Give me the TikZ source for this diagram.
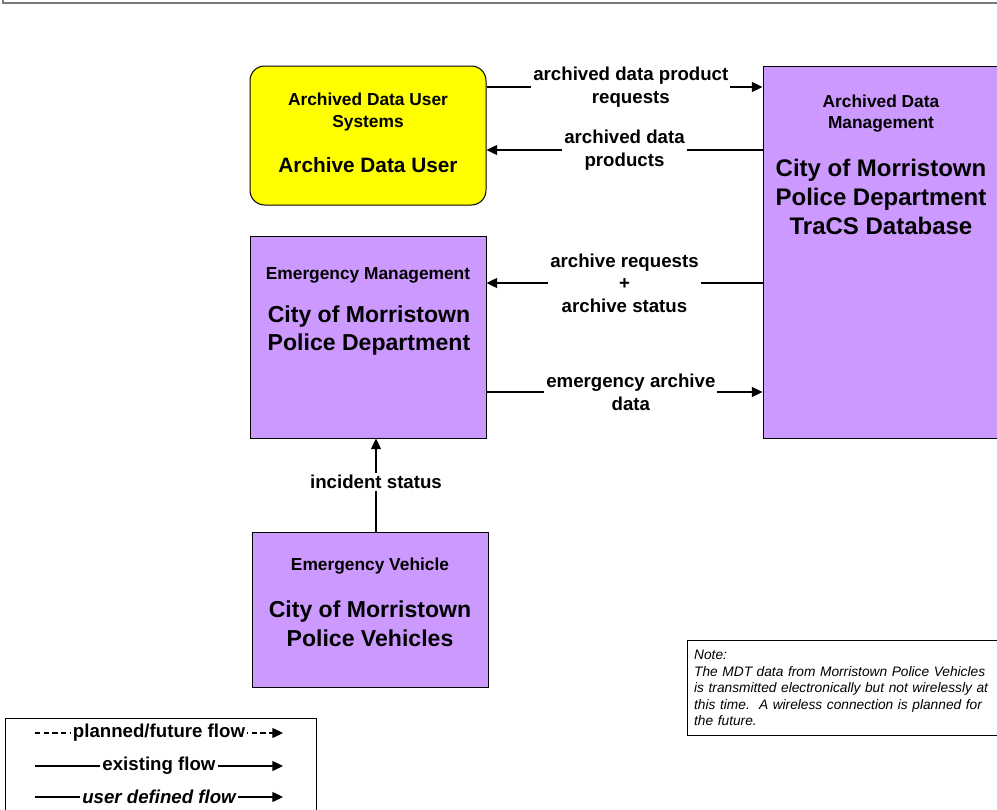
\documentclass[tikz,border=0pt]{standalone}
\usepackage{fontspec}
\setmainfont{Liberation Sans}
\usepackage{xcolor}
\usetikzlibrary{arrows.meta,calc}
\definecolor{ink}{HTML}{000000}
\definecolor{lilac}{HTML}{CC99FF}
\definecolor{lemon}{HTML}{FFFF00}
\definecolor{frame}{HTML}{7a7a7a}

\begin{document}
\begin{tikzpicture}[x=0.75pt,y=-0.75pt,
  box/.style={draw=ink,line width=0.75pt,fill=lilac,minimum width=177pt,inner sep=0pt},
  kind/.style={font=\bfseries\fontsize{13}{16.2}\selectfont,align=center,inner sep=0pt},
  owner/.style={font=\bfseries\fontsize{18}{21.75}\selectfont,align=center,inner sep=0pt},
  flow/.style={draw=ink,line width=1pt,-{Triangle[length=8pt,width=7.5pt]}},
  flowlabel/.style={fill=white,inner sep=1.5pt,font=\bfseries\fontsize{14}{17}\selectfont,align=center},
]

  % page area + stub of the frame above
  \useasboundingbox (0,0) rectangle (997,810);
  \clip (0,0) rectangle (997,810);
  \draw[frame,line width=1.3pt] (3,-5) -- (3,3) -- (1005,3);

  % ---------------------------------------------------------------- BOXES
  \node[box,fill=lemon,rounded corners=11pt,minimum height=104.25pt] (adu) at (368,135.5) {};
  \node[box,minimum height=279pt] (adm) at (881,252) {};
  \node[box,minimum height=151.5pt] (emgmt) at (368,337) {};
  \node[box,minimum height=116.25pt] (veh) at (370,609.5) {};

  % ---------------------------------------------------------------- BOX TEXTS
  \node[kind] (adukind) at (368,112) {Archived Data User\\Systems};
  \node[owner,font=\bfseries\fontsize{15.6}{18}\selectfont] (aduname) at (368,165) {Archive Data User};

  \node[kind] (admkind) at (881,113.5) {Archived Data\\Management};
  \node[owner] (admname) at (881,197) {City of Morristown\\Police Department\\TraCS Database};

  \node[kind] (emgmtkind) at (368,275) {Emergency Management};
  \node[owner,font=\bfseries\fontsize{17.3}{21}\selectfont] (emgmtname) at (369,331) {City of Morristown\\Police Department};

  \node[kind] (vehkind) at (370,566) {Emergency Vehicle};
  \node[owner,font=\bfseries\fontsize{17.3}{21.5}\selectfont] (vehname) at (370,624) {City of Morristown\\Police Vehicles};

  % ---------------------------------------------------------------- FLOWS
  \draw[flow] (adu.east |- 0,87) -- (adm.west |- 0,87)
    node[flowlabel,pos=0.523] (f1) {archived data product\\requests};
  \draw[flow] (adm.west |- 0,150) -- (adu.east |- 0,150)
    node[flowlabel,midway] (f2) {archived data\\products};
  \draw[flow] (adm.west |- 0,283) -- (emgmt.east |- 0,283)
    node[flowlabel,midway] (f3) {archive requests\\+\\archive status};
  \draw[flow] (emgmt.east |- 0,392) -- (adm.west |- 0,392)
    node[flowlabel,pos=0.523] (f4) {emergency archive\\data};
  \draw[flow] (veh.north -| 376,0) -- (emgmt.south -| 376,0)
    node[flowlabel,pos=0.53] (f5) {incident status};

  % ---------------------------------------------------------------- NOTE
  \node[draw=ink,line width=0.75pt,anchor=north west,text width=235pt,inner xsep=5pt,
        minimum height=71.25pt,align=left,font=\itshape\fontsize{10.3}{12.3}\selectfont] (note) at (687,640)
    {Note:\\The MDT data from Morristown Police Vehicles\\is transmitted electronically but not wirelessly at\\this time.\ \ A wireless connection is planned for\\the future.};

  % ---------------------------------------------------------------- LEGEND
  \node[draw=ink,line width=0.75pt,anchor=north west,minimum width=233.25pt,minimum height=84pt,inner sep=0pt] (legend) at (5,718) {};
  \coordinate (l1a) at (35,733);  \coordinate (l1b) at (283,733);
  \coordinate (l2a) at (35,766);  \coordinate (l2b) at (283,766);
  \coordinate (l3a) at (35,797);  \coordinate (l3b) at (283,797);
  \draw[flow,dash pattern=on 4pt off 2.5pt] (l1a) -- (l1b) node[flowlabel,midway] (k1) {planned/future flow};
  \draw[flow] (l2a) -- (l2b) node[flowlabel,midway] (k2) {existing flow};
  \draw[flow] (l3a) -- (l3b) node[flowlabel,midway,font=\bfseries\itshape\fontsize{14}{17}\selectfont] (k3) {user defined flow};

\end{tikzpicture}
\end{document}
